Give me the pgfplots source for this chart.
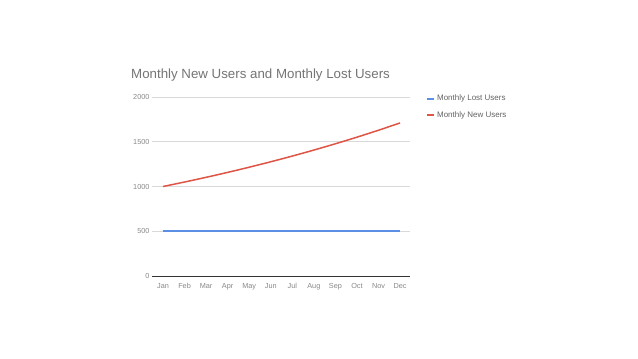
\documentclass[border=0pt]{standalone}
\usepackage{fontspec}
\setmainfont{Liberation Sans}
\usepackage{pgfplots}
\pgfplotsset{compat=1.18}
\definecolor{gblue}{HTML}{5B8FE6}
\definecolor{gred}{HTML}{DE5546}
\definecolor{titlegray}{HTML}{757575}
\definecolor{ticklab}{HTML}{888888}
\definecolor{gridc}{HTML}{D9D9D9}
\definecolor{axc}{HTML}{333333}
\begin{document}
\begin{tikzpicture}[x=1pt,y=1pt]
\fill[white] (0,0) rectangle (638,359);
\node[anchor=west, text=titlegray, font=\fontsize{13.3}{15}\selectfont, inner sep=0pt] at (131,283.5) {Monthly New Users and Monthly Lost Users};
\begin{axis}[
  at={(152pt,83pt)}, anchor=south west,
  scale only axis, width=258pt, height=179pt,
  xmin=-0.51, xmax=11.46, ymin=0, ymax=2000,
  xtick={0,...,11},
  xticklabels={Jan,Feb,Mar,Apr,May,Jun,Jul,Aug,Sep,Oct,Nov,Dec},
  ytick={0,500,1000,1500,2000},
  /pgf/number format/assume math mode=true,
  /pgf/number format/1000 sep={},
  tick label style={font=\fontsize{7.3}{9}\selectfont, text=ticklab},
  xticklabel style={yshift=-3.5pt},
  yticklabel style={xshift=1pt},
  major tick length=0pt,
  ymajorgrids, grid style={gridc, line width=0.6pt},
  separate axis lines,
  axis x line*=bottom, axis y line*=left,
  x axis line style={axc, line width=0.8pt, -},
  y axis line style={draw=none},
  legend style={at={(rel axis cs:1.05,1.035)}, anchor=north west, draw=none, fill=none,
    font=\fontsize{8}{9}\selectfont, text=titlegray!85!black, row sep=5pt,
    legend cell align=left},
  legend image code/.code={\draw[line width=2pt,#1] (0pt,0pt) -- (7pt,0pt);},
]
\addplot[gblue, line width=1.5pt] coordinates {(0,500)(1,500)(2,500)(3,500)(4,500)(5,500)(6,500)(7,500)(8,500)(9,500)(10,500)(11,500)};
\addlegendentry{Monthly Lost Users}
\addplot[gred, line width=1.5pt, smooth] coordinates {(0,1000)(1,1050)(2,1102.5)(3,1157.6)(4,1215.5)(5,1276.3)(6,1340.1)(7,1407.1)(8,1477.5)(9,1551.3)(10,1628.9)(11,1710.3)};
\addlegendentry{Monthly New Users}
\end{axis}
\end{tikzpicture}
\end{document}
